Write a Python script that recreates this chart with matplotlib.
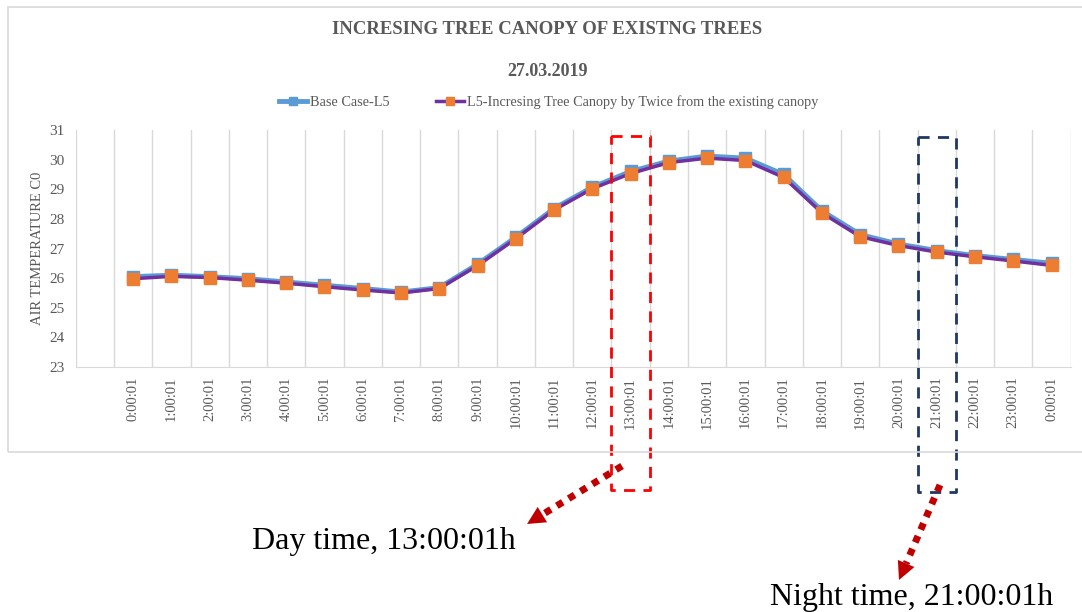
import numpy as np
import matplotlib.pyplot as plt
from matplotlib.patches import Rectangle
from matplotlib.lines import Line2D

plt.rcParams['font.family'] = ['Liberation Serif', 'DejaVu Serif']

# first category is empty, then hourly readings
times = ['', '0:00:01', '1:00:01', '2:00:01', '3:00:01', '4:00:01', '5:00:01',
         '6:00:01', '7:00:01', '8:00:01', '9:00:01', '10:00:01', '11:00:01',
         '12:00:01', '13:00:01', '14:00:01', '15:00:01', '16:00:01', '17:00:01',
         '18:00:01', '19:00:01', '20:00:01', '21:00:01', '22:00:01', '23:00:01',
         '0:00:01']
base_case = [np.nan, 26.05, 26.10, 26.05, 25.98, 25.87, 25.76, 25.65, 25.53,
             25.68, 26.47, 27.38, 28.35, 29.07, 29.60, 29.95, 30.12, 30.05,
             29.50, 28.27, 27.47, 27.15, 26.93, 26.76, 26.63, 26.50]
canopy_x2 = [np.nan, 25.98, 26.06, 26.02, 25.93, 25.83, 25.71, 25.60, 25.50,
             25.65, 26.42, 27.33, 28.30, 29.02, 29.53, 29.90, 30.05, 29.97,
             29.40, 28.20, 27.40, 27.10, 26.88, 26.72, 26.58, 26.43]

gray = '#595959'
x = np.arange(len(times))
W, H = 1082, 612

fig = plt.figure(figsize=(10.82, 6.12), dpi=100)
ax = fig.add_axes([0.070, 0.4003, 0.9195, 0.3873])

# chart frame
fig.patches.append(Rectangle((8 / W, 1 - 452 / H), 1.2, 445 / H,
                             transform=fig.transFigure, fill=False,
                             edgecolor='#D9D9D9', lw=1.2))

ax.plot(x, base_case, color='#5B9BD5', lw=3.5, marker='s', ms=8,
        mfc='#5B9BD5', mec='#5B9BD5', label='Base Case-L5', zorder=3)
ax.plot(x, canopy_x2, color='#7030A0', lw=2.5, marker='s', ms=8,
        mfc='#ED7D31', mec='#ED7D31',
        label='L5-Incresing Tree Canopy by Twice from the existing canopy', zorder=4)

ax.set_xlim(-0.5, len(times) - 0.5)
ax.set_ylim(23, 31)
ax.set_yticks(range(23, 32))
ax.set_xticks(x)
ax.set_xticklabels(times, rotation=90, fontsize=10.5, color=gray)
ax.tick_params(axis='y', labelsize=11, colors=gray, length=0, pad=8)
ax.tick_params(axis='x', length=0, pad=7)
for xv in np.arange(-0.5, len(times), 1.0):
    ax.axvline(xv, color='#D9D9D9', lw=1, zorder=0)
for s in ['top', 'right', 'left']:
    ax.spines[s].set_visible(False)
ax.spines['bottom'].set_color('#D9D9D9')
ax.set_ylabel('AIR TEMPERATURE C0', fontsize=10.5, color=gray, labelpad=4)

fig.text(0.506, 1 - 29 / H, 'INCRESING TREE CANOPY OF EXISTNG TREES',
         ha='center', va='center', fontsize=13.5, fontweight='bold', color=gray)
fig.text(0.506, 1 - 71 / H, '27.03.2019', ha='center', va='center',
         fontsize=13, fontweight='bold', color=gray)
leg = fig.legend(loc='center', bbox_to_anchor=(0.507, 1 - 102 / H), ncol=2,
                 frameon=False, fontsize=10.3, handlelength=2.0,
                 columnspacing=3.2, labelcolor=gray, handletextpad=0.2,
                 markerscale=0.8)

# highlight boxes for day and night hours
ax.plot([13.5, 14.5, 14.5, 13.5, 13.5], [30.8, 30.8, 18.84, 18.84, 30.8],
        color='#FF0000', lw=2, ls=(0, (4, 3)), clip_on=False, zorder=5)
ax.plot([21.5, 22.5, 22.5, 21.5, 21.5], [30.76, 30.76, 18.77, 18.77, 30.76],
        color='#1F3864', lw=2, ls=(0, (4, 3)), clip_on=False, zorder=5)


def dotted_arrow(x0, y0, x1, y1):
    # dotted shaft in pixels, solid triangular head at the end
    d = np.hypot(x1 - x0, y1 - y0)
    ux, uy = (x1 - x0) / d, (y1 - y0) / d
    hx, hy = x1 - ux * 18, y1 - uy * 18
    fig.add_artist(Line2D([x0 / W, hx / W], [1 - y0 / H, 1 - hy / H],
                          transform=fig.transFigure, color='#C00000', lw=5,
                          ls=(0, (1, 1)), solid_capstyle='butt',
                          dash_capstyle='butt'))
    fig.add_artist(plt.Polygon(
        [[x1 / W, 1 - y1 / H],
         [(hx + uy * 9) / W, 1 - (hy - ux * 9) / H],
         [(hx - uy * 9) / W, 1 - (hy + ux * 9) / H]],
        closed=True, transform=fig.transFigure, color='#C00000', lw=0))


dotted_arrow(622, 466, 527, 524)
dotted_arrow(940, 485, 899, 580)

fig.text(252 / W, 1 - 541 / H, 'Day time, 13:00:01h', ha='left',
         va='center', fontsize=23, color='black')
fig.text(770 / W, 1 - 597 / H, 'Night time, 21:00:01h', ha='left',
         va='center', fontsize=23, color='black')

plt.savefig('out.png', dpi=100)
